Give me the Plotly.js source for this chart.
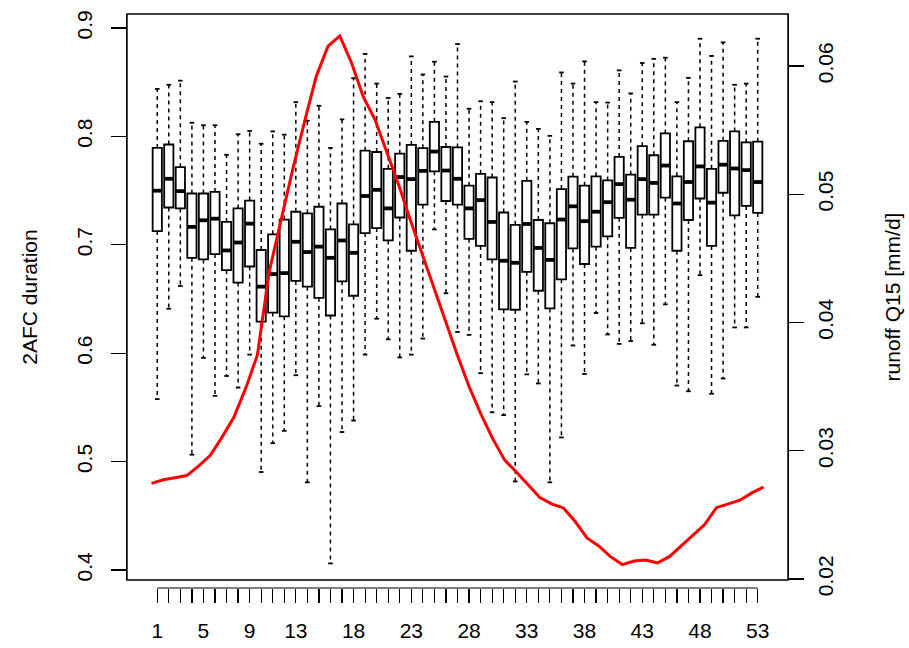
<!DOCTYPE html>
<html><head><meta charset="utf-8">
<script src="https://cdn.plot.ly/plotly-3.0.1.min.js"></script>
<style>html,body{margin:0;padding:0;background:#fff}</style>
</head><body><div id="chart" style="width:909px;height:648px"></div>
<script>
const weeks = Array.from({length: 53}, (_, i) => i + 1);
const labelledWeeks = [1,5,9,13,18,23,28,33,38,43,48,53];
const tickLabels = weeks.map(w => labelledWeeks.includes(w) ? String(w) : '');

const upperWhisker = [0.8438,0.8476,0.8514,0.8126,0.8103,0.8103,0.7830,0.8020,0.8050,0.7932,
 0.8046,0.8016,0.8316,0.8145,0.8282,0.7894,0.8157,0.8537,0.8761,0.8487,
 0.8354,0.8392,0.8738,0.8571,0.8689,0.8552,0.8852,0.8255,0.8324,0.8316,
 0.8168,0.8506,0.8134,0.8069,0.8005,0.8590,0.8487,0.8692,0.8316,0.8312,
 0.8609,0.8396,0.8677,0.8715,0.8726,0.8316,0.8540,0.8901,0.8742,0.8867,
 0.8476,0.8487,0.8901];
const q3 = [0.7894,0.7925,0.7716,0.7473,0.7473,0.7488,0.7211,0.7336,0.7408,0.6952,
 0.7097,0.7233,0.7305,0.7290,0.7351,0.7142,0.7381,0.7188,0.7868,0.7856,
 0.7701,0.7841,0.7921,0.7891,0.8134,0.7902,0.7898,0.7545,0.7655,0.7621,
 0.7298,0.7184,0.7590,0.7229,0.7199,0.7514,0.7628,0.7545,0.7632,0.7594,
 0.7811,0.7647,0.7910,0.7826,0.8027,0.7632,0.7955,0.8084,0.7701,0.7959,
 0.8046,0.7944,0.7951];
const median = [0.7499,0.7609,0.7495,0.7165,0.7226,0.7241,0.6948,0.7021,0.7195,0.6614,
 0.6730,0.6739,0.7028,0.6933,0.6983,0.6880,0.7040,0.6926,0.7450,0.7507,
 0.7336,0.7625,0.7606,0.7682,0.7860,0.7685,0.7609,0.7336,0.7412,0.7211,
 0.6853,0.6834,0.7192,0.6971,0.6861,0.7233,0.7355,0.7218,0.7305,0.7393,
 0.7560,0.7416,0.7606,0.7571,0.7731,0.7381,0.7579,0.7723,0.7389,0.7739,
 0.7704,0.7689,0.7579];
const q1 = [0.7127,0.7344,0.7336,0.6880,0.6865,0.6914,0.6766,0.6652,0.6800,0.6291,
 0.6375,0.6340,0.6667,0.6614,0.6511,0.6348,0.6663,0.6530,0.7108,0.7154,
 0.7040,0.7252,0.6945,0.7370,0.7678,0.7404,0.7370,0.7055,0.6990,0.6865,
 0.6405,0.6401,0.6751,0.6576,0.6413,0.6682,0.6967,0.6823,0.6983,0.7078,
 0.7249,0.6971,0.7279,0.7279,0.7435,0.6945,0.7229,0.7427,0.6990,0.7480,
 0.7271,0.7359,0.7294];
const lowerWhisker = [0.5577,0.6410,0.6620,0.5064,0.5957,0.5607,0.5790,0.5683,0.5987,0.4904,
 0.5170,0.5284,0.5797,0.4809,0.5512,0.4061,0.5273,0.5379,0.5987,0.6318,
 0.6128,0.5961,0.5987,0.6135,0.7142,0.6553,0.6196,0.6169,0.5816,0.5455,
 0.5429,0.4817,0.5805,0.5721,0.4809,0.5223,0.6071,0.5809,0.6371,0.6173,
 0.6086,0.6112,0.6276,0.6078,0.6451,0.5702,0.5649,0.6720,0.5626,0.5767,
 0.6238,0.6238,0.6520];
const runoffQ15 = [0.02745,0.02774,0.02790,0.02806,0.02880,0.02964,0.03106,0.03260,0.03486,0.03747,
 0.04394,0.04807,0.05194,0.05564,0.05919,0.06154,0.06234,0.06023,0.05758,0.05579,
 0.05324,0.05074,0.04797,0.04533,0.04270,0.04006,0.03743,0.03497,0.03283,0.03092,
 0.02928,0.02834,0.02737,0.02635,0.02585,0.02554,0.02448,0.02320,0.02257,0.02174,
 0.02112,0.02140,0.02148,0.02125,0.02174,0.02257,0.02339,0.02424,0.02556,0.02586,
 0.02614,0.02671,0.02717];
const leftTicks = [0.4, 0.5, 0.6, 0.7, 0.8, 0.9];
const rightTicks = [0.02, 0.03, 0.04, 0.05, 0.06];

// layout constants
const boxRange = [-1.62, 55.62];
const lineRange = [-1.08, 55.08];
const BOXW = 0.8, STAPLE = 0.2;
const FONT = 'Liberation Sans, Arial, Helvetica, sans-serif';

const wx = [], wy = [], sx = [], sy = [], mx = [], my = [];
weeks.forEach((w, i) => {
  wx.push(w, w, null, w, w, null);
  wy.push(q3[i], upperWhisker[i], null, q1[i], lowerWhisker[i], null);
  sx.push(w - STAPLE, w + STAPLE, null, w - STAPLE, w + STAPLE, null);
  sy.push(upperWhisker[i], upperWhisker[i], null, lowerWhisker[i], lowerWhisker[i], null);
  mx.push(w - BOXW / 2, w + BOXW / 2, null);
  my.push(median[i], median[i], null);
});

const traces = [
  {type: 'scatter', mode: 'lines', x: wx, y: wy, xaxis: 'x', yaxis: 'y', hoverinfo: 'skip',
   line: {color: '#000', width: 1.5, dash: '4px,4px'}, showlegend: false},
  {type: 'scatter', mode: 'lines', x: sx, y: sy, xaxis: 'x', yaxis: 'y', hoverinfo: 'skip',
   line: {color: '#000', width: 1.8}, showlegend: false},
  {type: 'box', x: weeks, q1: q1, median: median, q3: q3, lowerfence: q1, upperfence: q3,
   width: BOXW, whiskerwidth: 0, boxpoints: false, fillcolor: '#ffffff',
   line: {color: '#000', width: 1.8}, xaxis: 'x', yaxis: 'y', showlegend: false},
  {type: 'scatter', mode: 'lines', x: mx, y: my, xaxis: 'x', yaxis: 'y', hoverinfo: 'skip',
   line: {color: '#000', width: 3.8}, showlegend: false},
  {type: 'scatter', mode: 'lines', x: weeks, y: runoffQ15, xaxis: 'x2', yaxis: 'y2',
   line: {color: '#ff0000', width: 3}, showlegend: false}
];

const L = 127, R = 121, T = 14, B = 60;
const plotH = 648 - T - B;
const yDom0 = 8 / plotH;

const layout = {
  width: 909, height: 648,
  margin: {l: L, r: R, t: T, b: B},
  paper_bgcolor: '#fff', plot_bgcolor: '#fff',
  font: {family: FONT, size: 21, color: '#000'},
  showlegend: false,
  xaxis: {domain: [0, 1], range: boxRange, anchor: 'free', position: 0,
    tickmode: 'array', tickvals: weeks, ticktext: tickLabels, ticks: 'outside',
    ticklen: 14, tickwidth: 1.2, tickcolor: '#000', showline: false,
    showgrid: false, zeroline: false, ticklabelstandoff: 10,
    tickfont: {family: FONT, size: 21}, fixedrange: true},
  xaxis2: {overlaying: 'x', range: lineRange, visible: false, fixedrange: true},
  yaxis: {domain: [yDom0, 1], range: [0.3908, 0.9129], anchor: 'x',
    tickmode: 'array', tickvals: leftTicks, ticktext: leftTicks.map(String),
    ticks: 'outside', ticklen: 15, tickwidth: 1.2, tickcolor: '#000', tickangle: -90,
    ticklabelstandoff: 10, showline: true, mirror: true, linecolor: '#000', linewidth: 1.4,
    showgrid: false, zeroline: false, fixedrange: true,
    title: {text: '2AFC duration', font: {family: FONT, size: 21}, standoff: 30}},
  yaxis2: {overlaying: 'y', side: 'right', anchor: 'x', range: [0.01992, 0.06405],
    tickmode: 'array', tickvals: rightTicks, ticktext: rightTicks.map(String),
    ticks: 'outside', ticklen: 15, tickwidth: 1.2, tickcolor: '#000', tickangle: -90,
    ticklabelstandoff: 4, showline: false, showgrid: false, zeroline: false, fixedrange: true,
    title: {text: 'runoff Q15 [mm/d]', font: {family: FONT, size: 21}, standoff: 49}},
  shapes: [
    // plot frame (R box())
    {type: 'rect', xref: 'x domain', yref: 'y domain', x0: 0, x1: 1, y0: 0, y1: 1,
     line: {color: '#000', width: 1.4}, fillcolor: 'rgba(0,0,0,0)', layer: 'above'},
    // week-axis baseline spanning first to last tick
    {type: 'line', xref: 'x', yref: 'paper', x0: weeks[0], x1: weeks[weeks.length - 1],
     y0: 0, y1: 0, line: {color: '#000', width: 1.2}}
  ]
};

Plotly.newPlot('chart', traces, layout, {staticPlot: true, displayModeBar: false});
</script>
</body></html>
